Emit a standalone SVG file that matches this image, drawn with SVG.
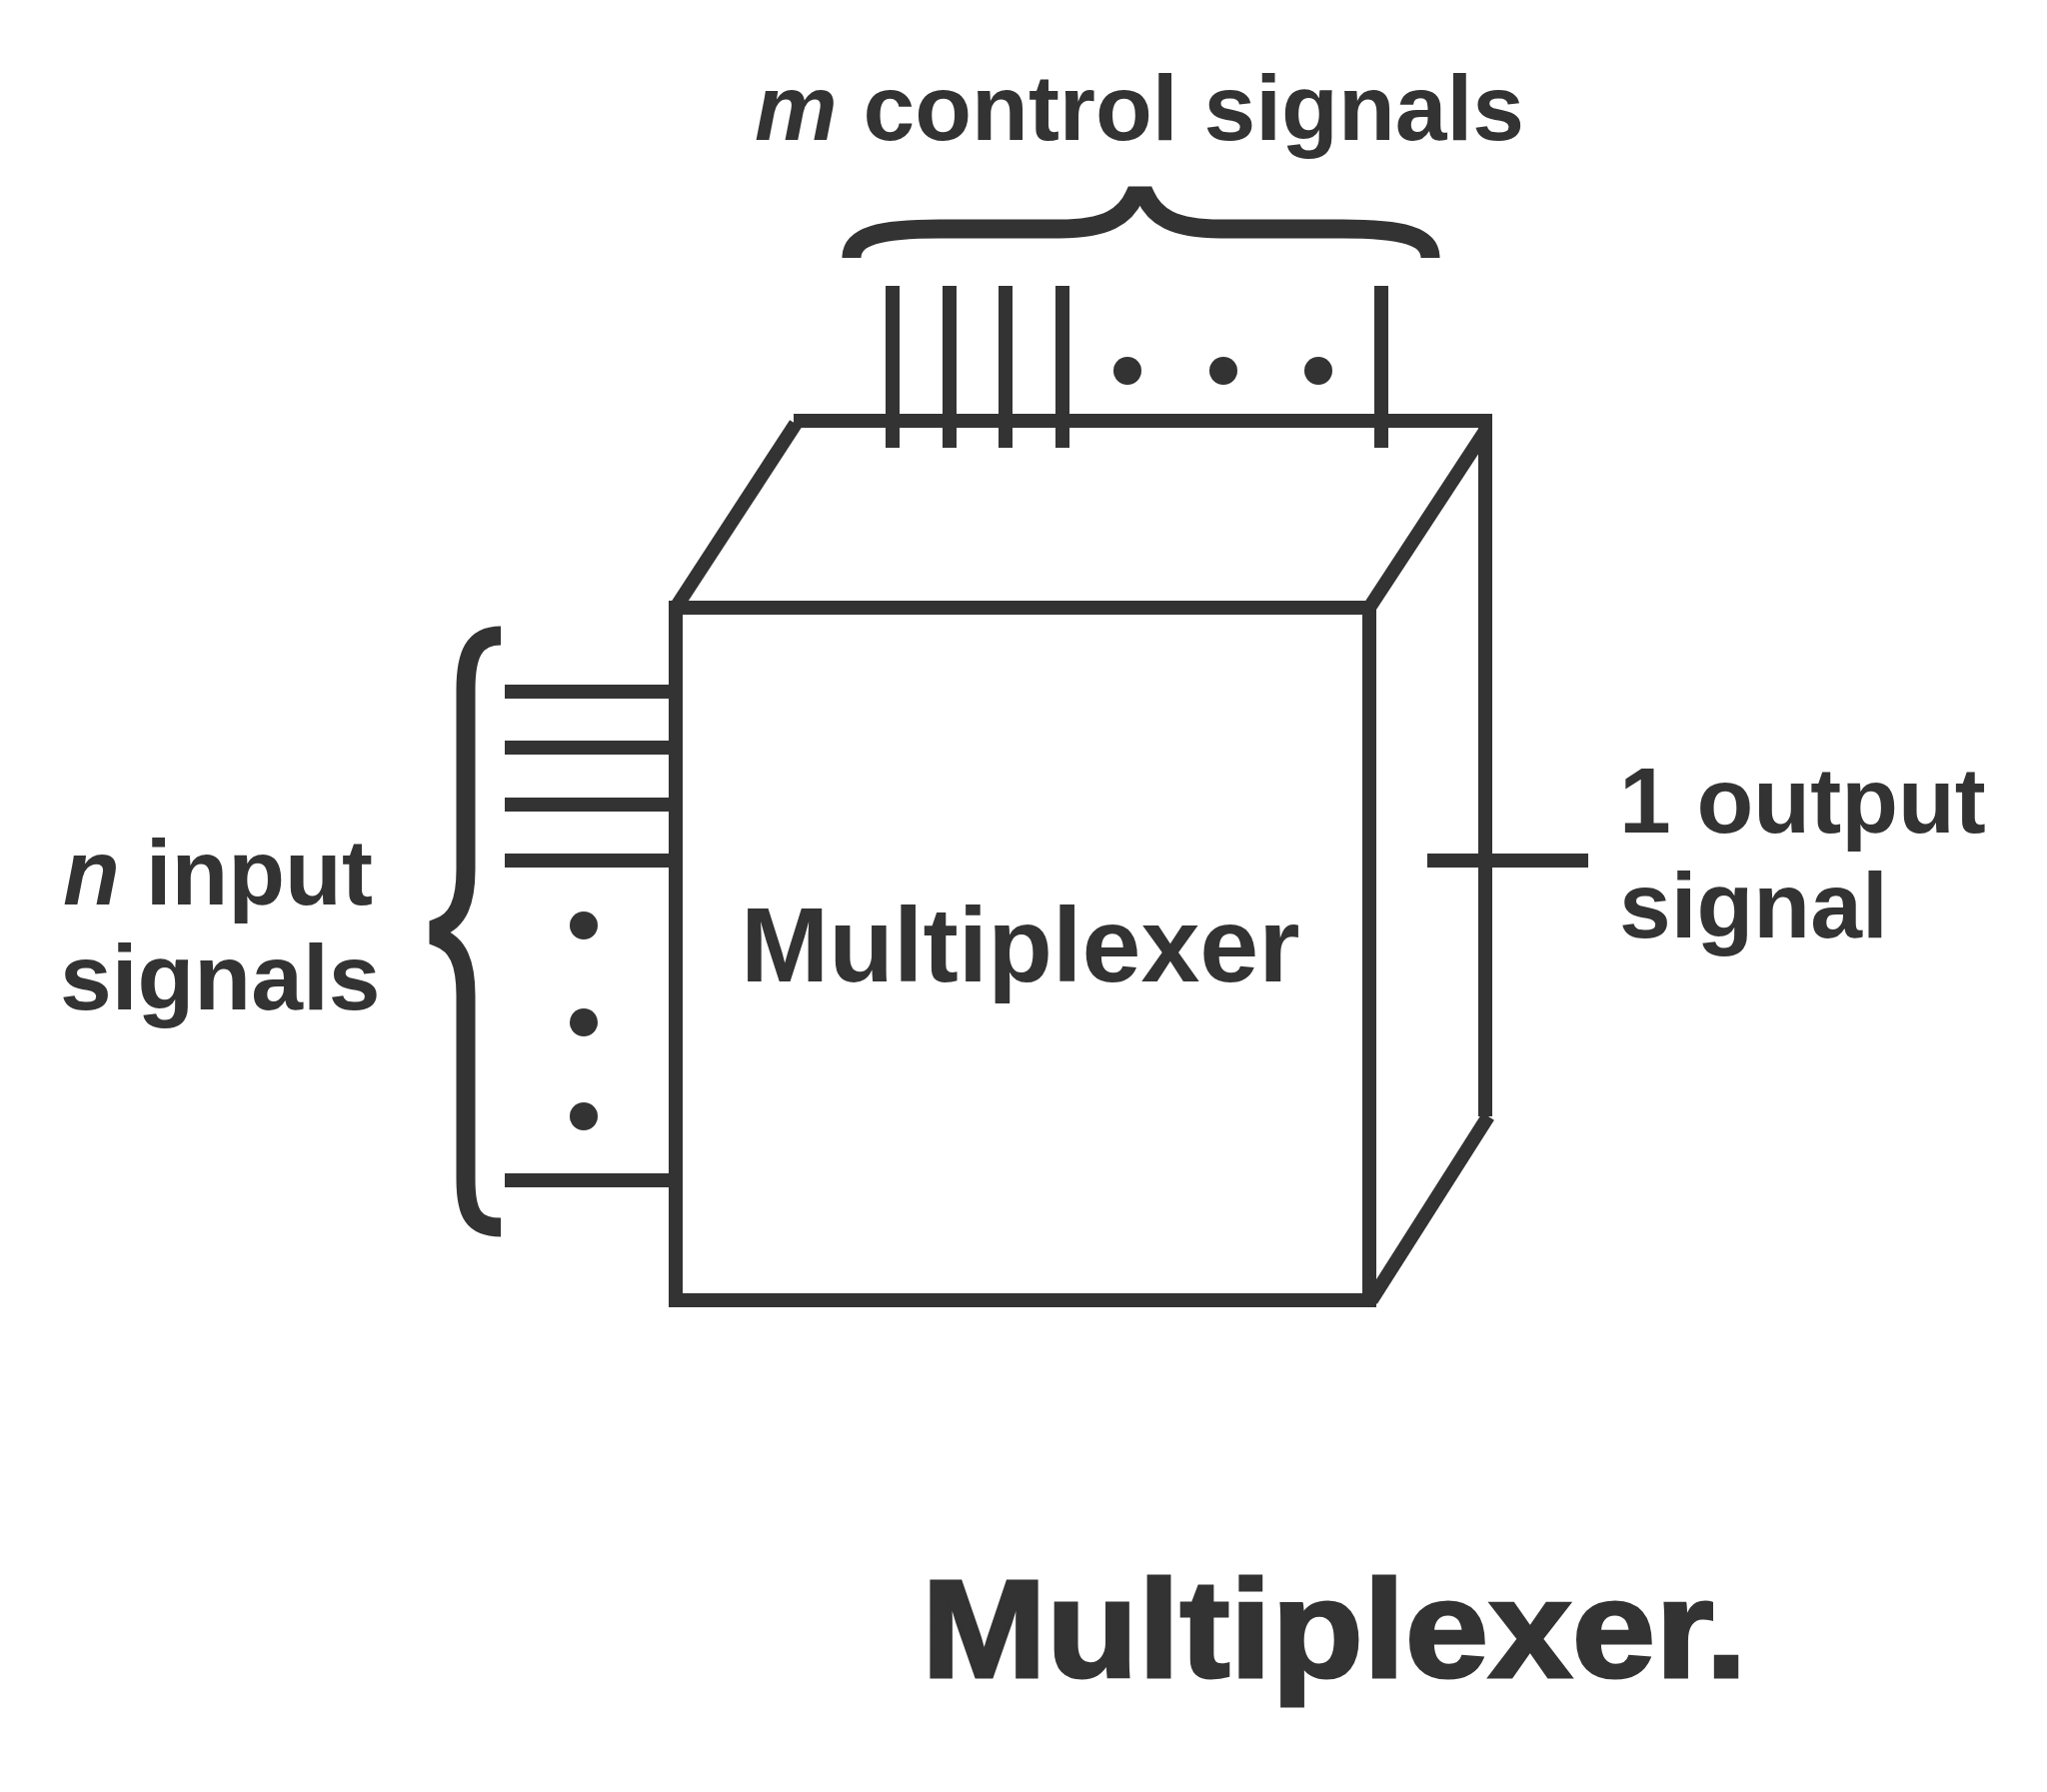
<svg xmlns="http://www.w3.org/2000/svg" width="2048" height="1793" viewBox="0 0 2048 1793">
<style>
.ln{stroke:#333;stroke-width:14;fill:none;stroke-linecap:butt}
.br{stroke:#333;stroke-width:19;fill:none;stroke-linecap:butt;stroke-linejoin:miter;stroke-miterlimit:10}
.dot{fill:#333}
.t{font-family:"Liberation Sans",Arial,sans-serif;font-weight:bold;fill:#333}
</style>
<rect width="2048" height="1793" fill="#fff"/>
<g id="mux">
<rect class="ln" x="676" y="608" width="694" height="693"/>
<line class="ln" x1="794" y1="421" x2="1493" y2="421"/>
<line class="ln" x1="1486" y1="414" x2="1486" y2="1117"/>
<line class="ln" x1="676" y1="608" x2="796" y2="424"/>
<line class="ln" x1="1486" y1="431" x2="1370" y2="608"/>
<line class="ln" x1="1489" y1="1117" x2="1372" y2="1301"/>
<text class="t" x="741" y="982" font-size="106">Multiplexer</text>
</g>
<g id="connectors">
<line class="ln" x1="893" y1="286" x2="893" y2="448"/>
<line class="ln" x1="950" y1="286" x2="950" y2="448"/>
<line class="ln" x1="1006" y1="286" x2="1006" y2="448"/>
<line class="ln" x1="1063" y1="286" x2="1063" y2="448"/>
<line class="ln" x1="1382" y1="286" x2="1382" y2="448"/>
<circle class="dot" cx="1128" cy="371" r="14"/>
<circle class="dot" cx="1224" cy="371" r="14"/>
<circle class="dot" cx="1319" cy="371" r="14"/>
<line class="ln" x1="505" y1="692" x2="669" y2="692"/>
<line class="ln" x1="505" y1="748" x2="669" y2="748"/>
<line class="ln" x1="505" y1="805" x2="669" y2="805"/>
<line class="ln" x1="505" y1="861" x2="669" y2="861"/>
<line class="ln" x1="505" y1="1181" x2="669" y2="1181"/>
<circle class="dot" cx="584" cy="926" r="14"/>
<circle class="dot" cx="584" cy="1023" r="14"/>
<circle class="dot" cx="584" cy="1117" r="14"/>
<line class="ln" x1="1428" y1="861" x2="1589" y2="861"/>
</g>
<g id="top-brace">
<path class="br" d="M852,258 C852,236 880,229 940,229 L1060,229 C1108,229 1126,216 1135,196 L1146,196 C1155,216 1173,229 1221,229 L1343,229 C1403,229 1431,236 1431,258"/>
<text class="t" x="755" y="140" font-size="93"><tspan font-style="italic">m</tspan> control signals</text>
</g>
<g id="left-brace">
<path class="br" d="M501,636 C474,636 466,655 466,690 L466,870 C466,903 458,921 439,928 L439,938 C458,945 466,963 466,996 L466,1180 C466,1215 474,1228 501,1228"/>
<text class="t" x="63" y="905" font-size="93"><tspan font-style="italic">n</tspan> input</text>
<text class="t" x="60" y="1010" font-size="93">signals</text>
</g>
<g id="output-label">
<text class="t" x="1620" y="833" font-size="93">1 output</text>
<text class="t" x="1620" y="938" font-size="93">signal</text>
</g>
<g id="title">
<text class="t" x="922" y="1678" font-size="140" textLength="826" lengthAdjust="spacingAndGlyphs" style="stroke:#333;stroke-width:3">Multiplexer.</text>
</g>
</svg>
